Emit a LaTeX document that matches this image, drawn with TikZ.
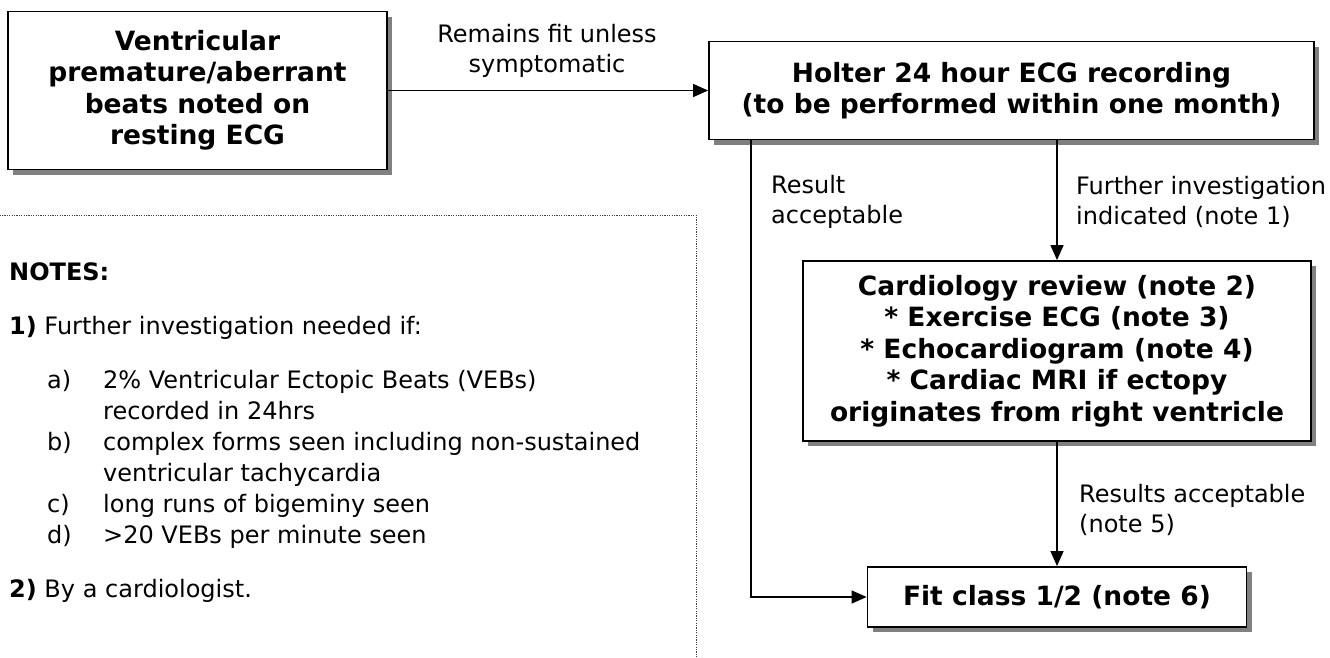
\documentclass[tikz,border=0pt]{standalone}
\usepackage{fontspec}
\setmainfont{DejaVu Sans}
\usetikzlibrary{arrows.meta,shadows}

\begin{document}
\begin{tikzpicture}[x=1pt,y=-1pt,
  stepbox/.style={draw=black, line width=1.8pt, fill=white, inner sep=0pt,
    align=center, font=\bfseries\fontsize{26.5}{31.5}\selectfont,
    drop shadow={shadow xshift=5pt, shadow yshift=-5pt, fill=black!50, opacity=1}},
  conn/.style={line width=1.4pt, -{Triangle[length=15pt,width=13pt]}},
  lbl/.style={inner sep=0pt, font=\fontsize{24}{29.5}\selectfont},
  note/.style={inner sep=0pt, anchor=base west, font=\fontsize{24}{29}\selectfont},
  notebox/.style={line width=1pt, black!75, dash pattern=on 1.2pt off 1.2pt}
]
\useasboundingbox (0,0) rectangle (1330,657);

% notes frame (open to the left and bottom)
\coordinate (nf1) at (-10,215);
\coordinate (nf2) at (696,215);
\coordinate (nf3) at (696,670);
\draw[notebox] (nf1) -- (nf2) -- (nf3);

% flow boxes
\node[stepbox, minimum width=379pt, minimum height=158pt] (start) at (197.5,90.5)
  {Ventricular\\premature/aberrant\\beats noted on\\resting ECG};
\node[stepbox, minimum width=605pt, minimum height=98pt] (holter) at (1011.5,90.5)
  {Holter 24 hour ECG recording\\(to be performed within one month)};
\node[stepbox, minimum width=508pt, minimum height=180pt] (cardio) at (1057,351)
  {Cardiology review (note 2)\\* Exercise ECG (note 3)\\* Echocardiogram (note 4)\\* Cardiac MRI if ectopy\\originates from right ventricle};
\node[stepbox, minimum width=379pt, minimum height=60pt] (fit) at (1057,597)
  {Fit class 1/2 (note 6)};

% connectors
\draw[conn] (start.east) -- (start.east -| holter.west);
\draw[conn] ([xshift=43pt]holter.south west) |- (fit.west);
\draw[conn] (holter.south -| cardio.north) -- (cardio.north);
\draw[conn] (cardio.south) -- (fit.north);

% connector labels
\node[lbl, align=center] (l1) at (547,51) {Remains fit unless\\symptomatic};
\node[lbl, align=left, anchor=west] (l2) at (771,202) {Result\\acceptable};
\node[lbl, align=left, anchor=west] (l3) at (1076,202) {Further investigation\\indicated (note 1)};
\node[lbl, align=left, anchor=west] (l4) at (1079,510) {Results acceptable\\(note 5)};

% notes
\node[note] (n0) at (9,280) {\bfseries NOTES:};
\node[note] (n1) at (9,334) {\textbf{1)} Further investigation needed if:};
\node[note] (na) at (47,388) {a)};
\node[note] (nat) at (103,388) {2\% Ventricular Ectopic Beats (VEBs)};
\node[note] (nat2) at (103,419) {recorded in 24hrs};
\node[note] (nb) at (47,450) {b)};
\node[note] (nbt) at (103,450) {complex forms seen including non-sustained};
\node[note] (nbt2) at (103,481) {ventricular tachycardia};
\node[note] (nc) at (47,512) {c)};
\node[note] (nct) at (103,512) {long runs of bigeminy seen};
\node[note] (nd) at (47,543) {d)};
\node[note] (ndt) at (103,543) {>20 VEBs per minute seen};
\node[note] (n2) at (9,597) {\textbf{2)} By a cardiologist.};
\end{tikzpicture}
\end{document}
